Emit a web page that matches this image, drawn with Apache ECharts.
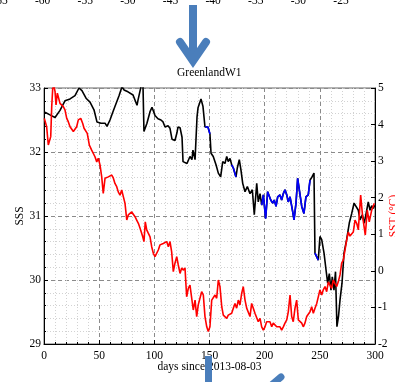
<!DOCTYPE html>
<html>
<head>
<meta charset="utf-8">
<script src="https://cdn.jsdelivr.net/npm/echarts@6/dist/echarts.min.js"></script>
<style>
  html, body { margin: 0; padding: 0; background: #fff; }
  #chart { width: 395px; height: 382px; }
</style>
</head>
<body>
<div id="chart"></div>
<script>
/* ------------------------------------ data ------------------------------------ */
// SSS (left axis), days since 2013-08-03
let blackDays = [0.9,5.4,10.0,14.5,19.0,23.6,28.1,31.7,34.4,38.1,41.7,45.3,48.0,51.7,55.3,57.1,59.8,62.5,64.3,68.0,
    70.7,72.5,76.1,80.7,84.3,85.2,87.9,89.7,90.6,93.3,96.1,97.9,100.6,102.4,103.3,106.0,107.9,109.7,112.4,114.2,
    116.0,116.9,118.7,120.5,121.4,123.3,125.1,126.0,127.8,129.6,132.3,134.1,135.0,136.9,138.7,139.6,140.5,141.4,142.3,143.2,
    144.1,145.9,148.6,150.4,151.4,153.4,155.9,158.0,160.1,162.0,164.0,165.6,167.0,168.6,170.1,171.6,174.0,175.2,177.0,178.5,
    180.1,182.2,184.3,186.7,188.8,190.6,192.8,194.2,195.8,197.3,198.8,200.9,202.7,204.2,205.5,207.3,208.7,210.3,211.8,213.9,
    215.4,216.9,218.4,220.0,221.4,223.0,225.4,226.6,228.4,229.9,231.4,233.6,235.6,237.4,239.5,241.1,242.9,244.7,245.6,246.5,
    248.6,250.1,251.7,253.8,255.6,257.1,258.6,260.1,261.3,262.8,264.2,265.5,266.9,268.3,270.1,271.9,274.3,276.7,278.9,281.0,
    282.8,284.9,286.4,288.5,290.3,292.5,293.9,295.5,297.0,298.5,299.7];
let blackSss = [32.62,32.58,32.54,32.65,32.80,32.83,32.88,33.0,32.96,32.84,32.78,32.66,32.47,32.45,32.45,32.40,32.50,32.63,32.71,32.88,
    33.02,32.97,32.94,32.89,32.73,32.81,33.02,33.06,32.32,32.45,32.63,32.70,32.57,32.59,32.52,32.50,32.47,32.39,32.41,32.37,
    32.20,32.22,32.18,32.30,32.39,32.38,32.23,31.85,31.84,31.82,31.93,31.88,32.03,31.88,32.55,32.69,32.72,32.66,32.83,32.81,
    32.71,32.39,32.39,32.28,31.98,31.93,31.80,31.67,31.61,31.85,31.82,31.93,31.85,31.90,31.80,31.75,31.61,31.75,31.88,31.72,
    31.51,31.38,31.46,31.35,31.41,31.02,31.51,31.22,31.35,31.17,31.33,30.96,31.38,31.41,31.25,31.20,31.25,31.15,31.30,31.33,
    31.25,31.35,31.41,31.33,31.22,31.30,31.07,30.94,31.20,31.59,31.41,31.15,31.04,31.30,31.33,31.56,31.61,31.67,30.42,30.39,
    30.31,30.68,30.63,30.42,30.16,29.95,30.10,29.84,30.05,29.84,30.13,29.27,29.43,29.69,29.95,30.42,30.63,30.89,31.04,31.20,
    31.20,31.09,30.94,31.02,30.89,31.09,31.22,31.09,31.16,31.12,31.17];
// day ranges where the SSS trace is drawn blue
let blueRanges = [[145.5, 150.5], [169.5, 174.5], [196.5, 241.5], [245, 249]];

// SST (right axis)
let redDays = [0.3,2.4,3.9,4.8,6.1,7.0,7.9,9.1,10.0,10.9,12.1,13.3,14.5,16.0,17.5,19.0,20.6,22.0,23.6,25.1,
    26.6,28.1,29.6,31.1,33.3,35.1,36.3,38.1,39.2,41.1,43.2,44.7,46.2,47.8,49.2,50.8,52.3,53.7,55.3,56.8,
    58.3,59.8,61.4,62.8,64.3,65.9,67.3,68.9,70.4,71.9,73.4,75.0,76.4,77.9,79.5,80.9,82.5,84.0,85.5,87.0,
    89.5,90.6,91.8,93.1,94.5,96.1,97.6,99.1,100.6,102.1,103.6,105.1,106.7,108.1,109.7,111.2,112.7,114.2,115.7,117.2,
    118.7,120.3,121.7,123.3,124.8,126.2,127.8,129.3,130.8,132.3,133.9,135.3,136.9,138.4,139.8,141.4,142.9,144.4,145.9,147.5,
    148.9,150.4,152.0,153.4,155.0,156.5,158.0,159.5,161.1,162.5,164.0,165.6,167.0,168.6,170.1,171.6,173.1,174.6,176.1,177.6,
    179.2,180.6,182.2,183.7,185.2,186.7,188.2,189.7,191.2,192.8,194.2,195.8,197.3,198.8,200.3,201.8,203.3,204.8,206.4,207.8,
    209.4,210.9,212.3,213.9,215.4,216.9,218.4,220.0,221.4,223.0,224.5,225.9,227.5,229.0,230.5,232.0,233.6,235.0,236.5,238.1,
    239.5,241.1,242.6,244.1,245.6,247.2,248.6,250.1,251.7,253.1,254.7,256.2,257.7,259.2,260.7,262.2,263.7,265.3,266.7,268.3,
    269.8,271.3,272.8,274.3,275.8,277.3,278.9,280.3,281.9,283.4,284.9,287.0,288.8,291.2,293.0,294.8,297.0,299.4];
let redSst = [4.17,3.94,3.44,3.40,3.67,4.49,4.99,5.05,4.90,4.54,4.86,4.72,4.58,4.62,4.49,4.40,4.17,4.08,3.94,3.91,
    3.81,3.85,3.94,4.13,4.17,4.03,3.90,3.85,3.76,3.44,3.30,3.26,3.12,2.98,3.08,2.89,2.57,2.12,2.53,2.48,
    2.57,2.62,2.62,2.54,2.39,2.30,2.16,2.07,2.21,2.03,1.85,1.39,1.53,1.57,1.61,1.57,1.48,1.39,1.30,1.17,
    0.93,0.80,1.34,1.12,1.03,0.93,0.66,0.48,0.39,0.43,0.57,0.71,0.66,0.75,0.71,0.80,0.66,0.80,0.52,-0.02,
    0.21,0.39,0.16,-0.07,0.08,0.02,0.08,-0.71,-0.48,-0.39,-0.43,-1.07,-0.80,-1.25,-0.93,-0.88,-0.57,-0.66,-1.25,-1.53,
    -1.66,-1.53,-0.80,-0.80,-0.66,-0.75,-0.25,-0.43,-0.98,-1.21,-1.21,-1.30,-1.21,-1.25,-1.16,-1.02,-0.89,-1.02,-0.80,-0.93,
    -0.61,-0.43,-0.80,-1.02,-1.02,-1.25,-0.89,-1.02,-1.16,-1.12,-1.39,-1.30,-1.53,-1.62,-1.53,-1.39,-1.43,-1.39,-1.53,-1.43,
    -1.48,-1.53,-1.57,-1.53,-1.62,-1.53,-1.43,-1.34,-1.12,-0.66,-1.25,-1.39,-1.02,-0.80,-1.34,-1.30,-1.43,-1.53,-1.43,-1.25,
    -1.21,-1.12,-0.98,-1.16,-1.02,-0.89,-0.71,-0.52,-0.66,-0.52,-0.43,-0.57,-0.30,-0.39,-0.48,-0.25,-0.34,-0.43,-0.30,-0.11,
    0.21,0.30,0.57,0.84,1.06,0.95,0.93,1.06,1.39,1.30,1.12,2.07,1.48,0.98,1.66,1.34,1.66,1.85];

// longitude labels of the map above (only their lower half shows)
let lonMin = -65, lonMax = -25, lonStep = 5;

/* ------------------------------------ option ------------------------------------ */
let serif = 'Liberation Serif, DejaVu Serif, serif';
let arrowBlue = '#4a7ebb';
let fs = 11.5;

let blackData = blackDays.map((d, i) => [d, blackSss[i]]);
let blueData = blackDays.map((d, i) =>
    blueRanges.some(r => d >= r[0] && d <= r[1]) ? [d, blackSss[i]] : [d, '-']);
let redData = redDays.map((d, i) => [d, redSst[i]]);

let label = { color: '#000', fontFamily: serif, fontSize: fs };

let option = {
    animation: false,
    backgroundColor: '#fff',
    title: {
        text: 'GreenlandW1',
        left: 177, top: 67, padding: 0,
        textStyle: { fontFamily: serif, fontSize: fs, fontWeight: 'normal', color: '#000' }
    },
    grid: [
        { left: 44, right: 20, top: 88, bottom: 38, show: true, borderColor: '#666', borderWidth: 1,
          containLabel: false, outerBoundsMode: 'none' },
        { left: 0, width: 341, top: -28, height: 20, containLabel: false, outerBoundsMode: 'none' }   // longitude strip
    ],
    xAxis: [
        {
            gridIndex: 0, type: 'value', min: 0, max: 300, interval: 50,
            name: 'days since 2013-08-03', nameLocation: 'middle', nameGap: 17, nameMoveOverlap: false,
            nameTextStyle: label,
            axisLine: { onZero: false, lineStyle: { color: '#000', width: 1 } },
            axisTick: { inside: true, length: 4, lineStyle: { color: '#000' } },
            minorTick: { show: true, splitNumber: 5, length: 2, lineStyle: { color: '#000' } },
            axisLabel: Object.assign({ margin: 6 }, label),
            splitLine: { show: true, lineStyle: { color: '#8a8a8a', type: [4, 3], width: 1 } },
            minorSplitLine: { show: true, lineStyle: { color: '#d2d2d2', type: [1, 2], width: 1 } }
        },
        {
            gridIndex: 1, type: 'value', min: lonMin, max: lonMax, interval: lonStep,
            axisLine: { show: false, onZero: false }, axisTick: { show: false }, splitLine: { show: false },
            axisLabel: Object.assign({ margin: 3, showMinLabel: true, showMaxLabel: true, hideOverlap: false }, label)
        }
    ],
    yAxis: [
        {
            gridIndex: 0, type: 'value', min: 29, max: 33, interval: 1, position: 'left',
            name: 'SSS', nameLocation: 'middle', nameGap: 18, nameMoveOverlap: false, nameTextStyle: label,
            axisLine: { onZero: false, lineStyle: { color: '#000', width: 1 } },
            axisTick: { inside: true, length: 4, lineStyle: { color: '#000' } },
            minorTick: { show: true, splitNumber: 5, length: 2, lineStyle: { color: '#000' } },
            axisLabel: Object.assign({ margin: 3 }, label),
            splitLine: { show: true, lineStyle: { color: '#8a8a8a', type: [4, 3], width: 1 } },
            minorSplitLine: { show: true, lineStyle: { color: '#d2d2d2', type: [1, 2], width: 1 } }
        },
        {
            gridIndex: 0, type: 'value', min: -2, max: 5, interval: 1, position: 'right',
            name: 'SST (°C)', nameLocation: 'middle', nameGap: 13, nameRotate: 90, nameMoveOverlap: false,
            nameTextStyle: Object.assign({}, label, { color: '#ff0000' }),
            axisLine: { onZero: false, lineStyle: { color: '#000', width: 1 } },
            axisTick: { inside: true, length: 4, lineStyle: { color: '#000' } },
            axisLabel: Object.assign({ margin: 3 }, label),
            splitLine: { show: false }
        },
        { gridIndex: 1, type: 'value', show: false }
    ],
    series: [
        {
            type: 'line', xAxisIndex: 0, yAxisIndex: 0, data: blackData,
            showSymbol: false, lineStyle: { color: '#000', width: 1.6 }, z: 3
        },
        {
            type: 'line', xAxisIndex: 0, yAxisIndex: 0, data: blueData, connectNulls: false,
            showSymbol: false, lineStyle: { color: '#0000ff', width: 1.6 }, z: 4
        },
        {
            type: 'line', xAxisIndex: 0, yAxisIndex: 1, data: redData,
            showSymbol: false, lineStyle: { color: '#ff0000', width: 1.6 }, z: 5
        }
    ],
    graphic: [
        // arrow from the map down to the panel
        { type: 'line', z: 100, shape: { x1: 193, y1: 5, x2: 193, y2: 58 },
          style: { stroke: arrowBlue, lineWidth: 8 } },
        { type: 'polyline', z: 100, shape: { points: [[180, 42], [193, 61], [206, 42]] },
          style: { stroke: arrowBlue, lineWidth: 8, lineCap: 'round', lineJoin: 'miter', fill: null } },
        // arrows of the next panel peeking in at the bottom
        { type: 'line', z: 100, shape: { x1: 208.5, y1: 356, x2: 208.5, y2: 390 },
          style: { stroke: arrowBlue, lineWidth: 7 } },
        { type: 'line', z: 100, shape: { x1: 268, y1: 388, x2: 281, y2: 377 },
          style: { stroke: arrowBlue, lineWidth: 7, lineCap: 'round' } }
    ]
};

let chart = echarts.init(document.querySelector('#chart'), null, { renderer: 'canvas' });
chart.setOption(option);
</script>
</body>
</html>
